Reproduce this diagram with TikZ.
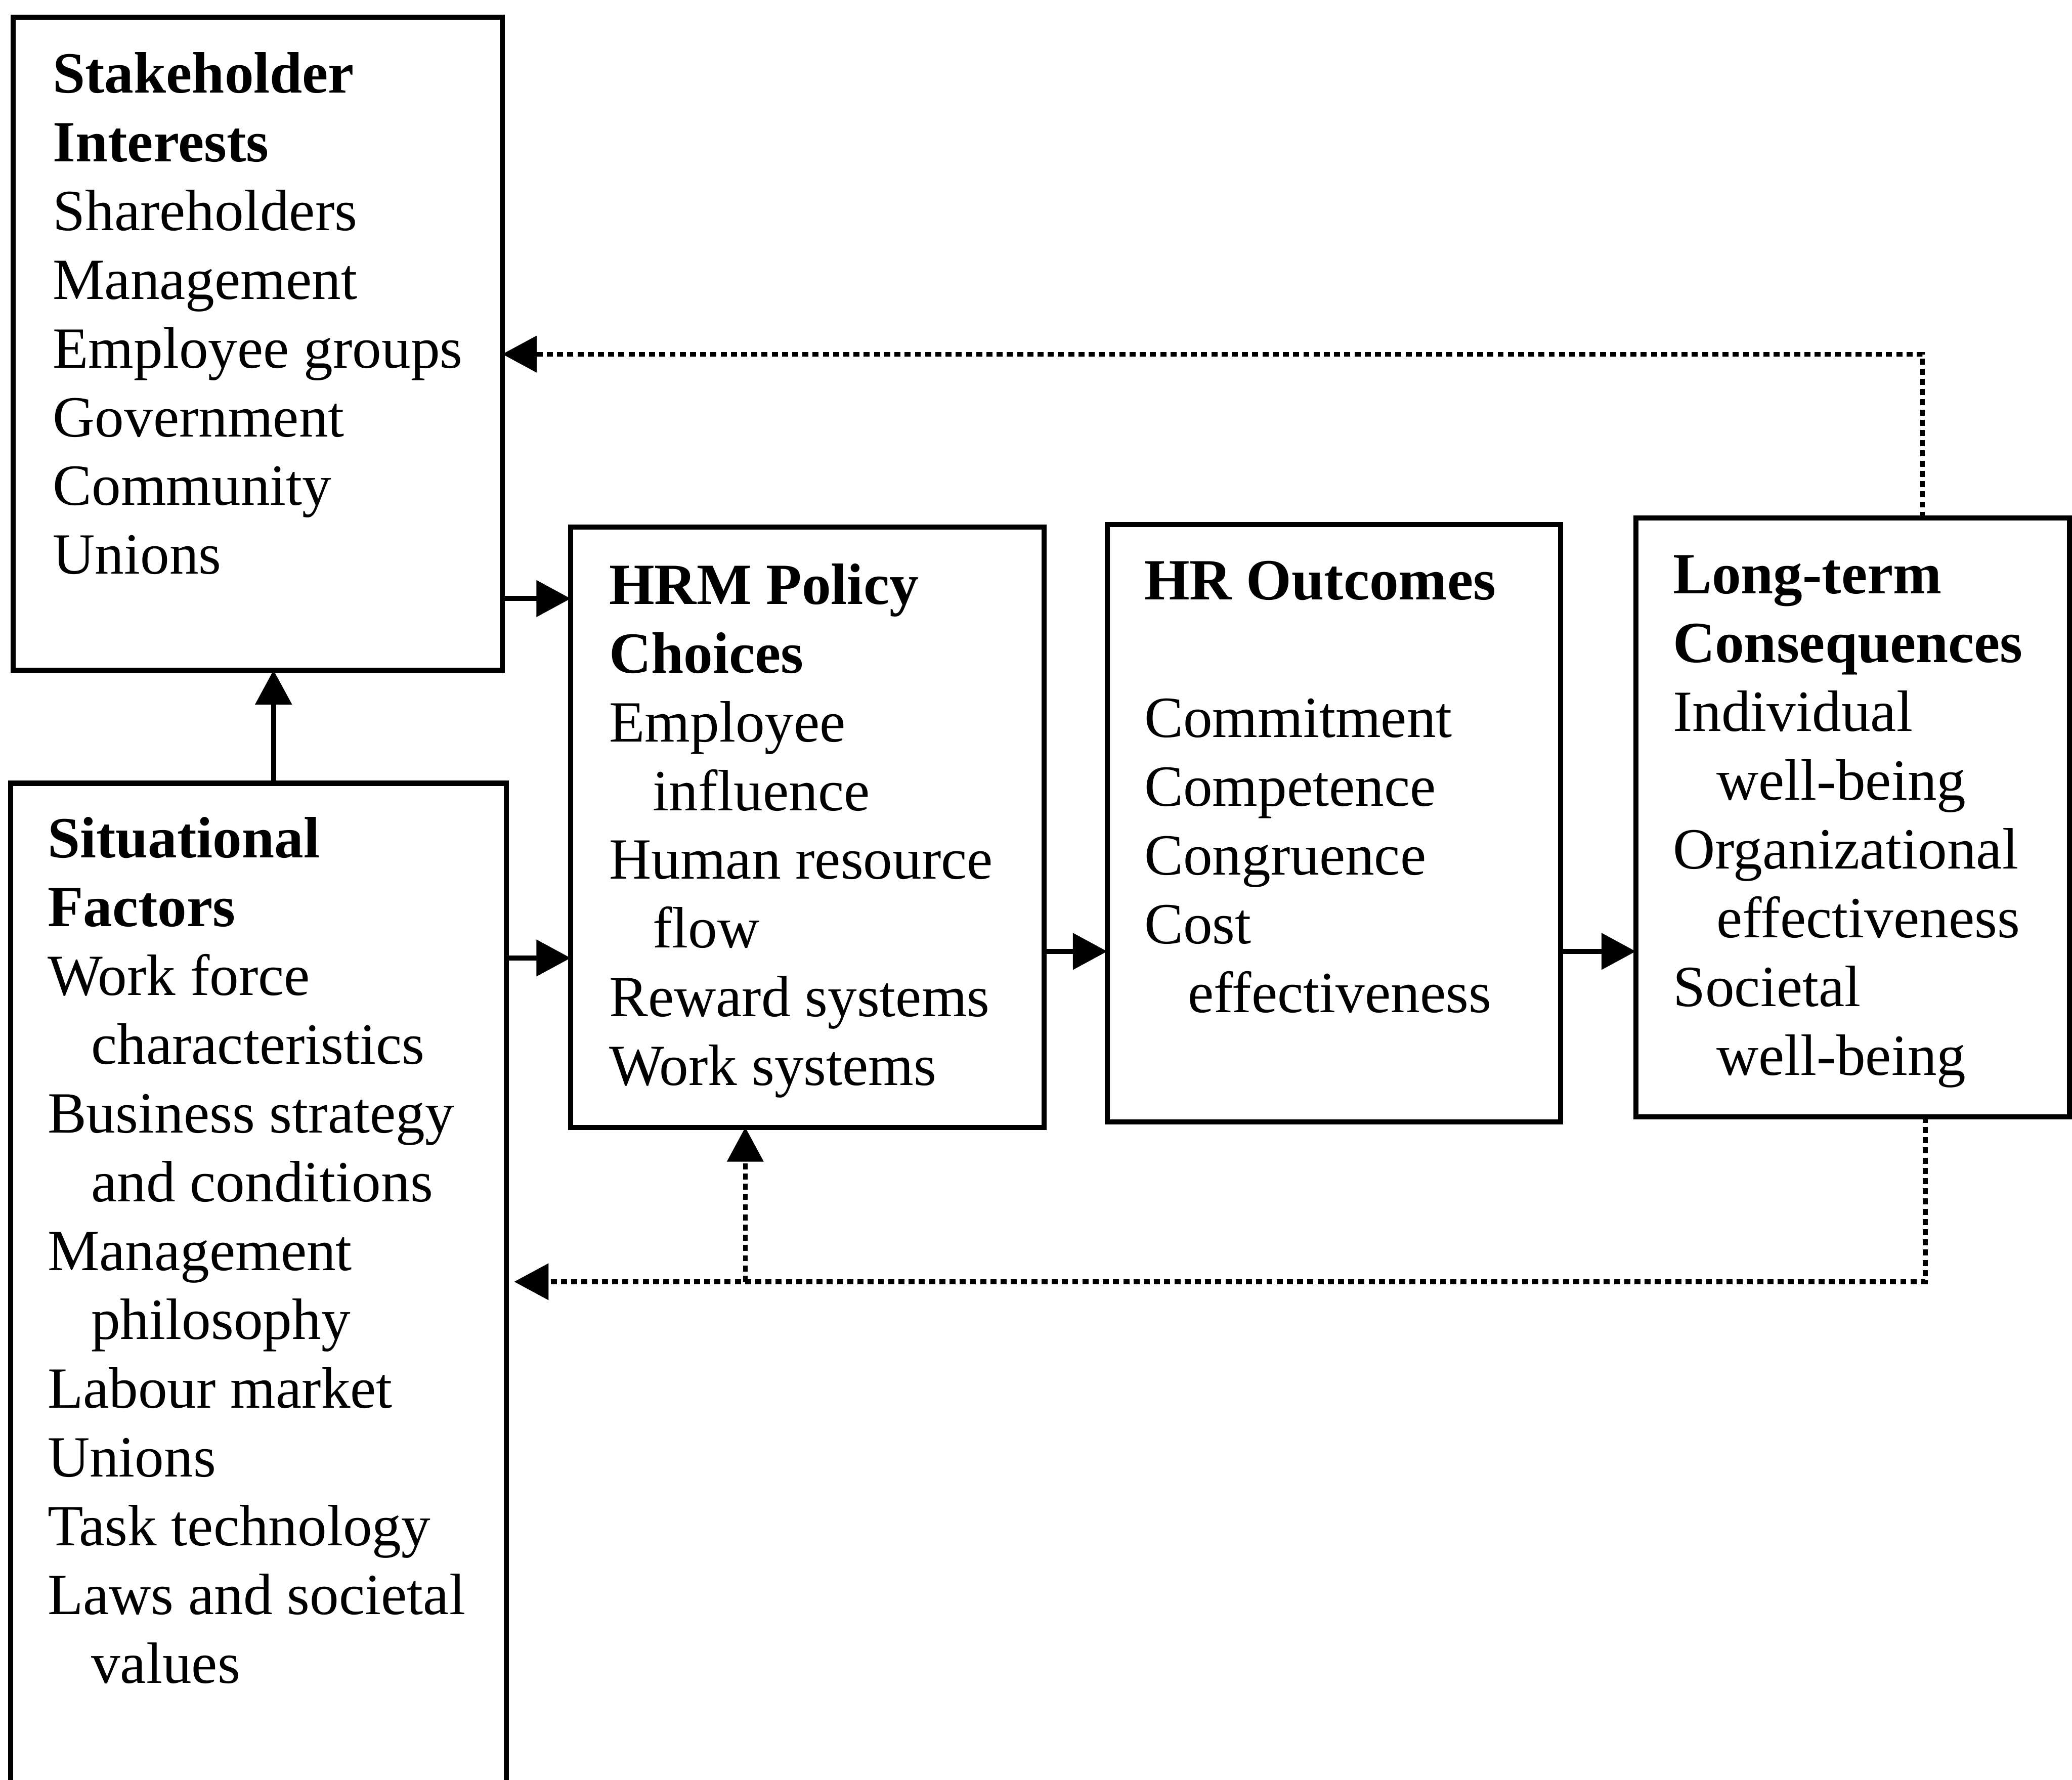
\documentclass[tikz,border=0pt]{standalone}
\usepackage{fontspec}
\setmainfont{Liberation Serif}
\usetikzlibrary{arrows.meta}
\newcommand{\ind}{\hspace*{0.33cm}}
\tikzset{
  box/.style={draw, line width=1.1pt, rectangle, inner sep=0pt, outer sep=0pt},
  txt/.style={anchor=north west, inner sep=0pt, outer sep=0pt, align=left,
              font=\fontsize{12.55}{14.8}\selectfont},
  arr/.style={line width=1.1pt, -{Triangle[length=0.26cm, width=0.27cm]}},
  fb/.style={line width=1.0pt, dash pattern=on 1.3pt off 0.9pt},
  fbarr/.style={fb, -{Triangle[length=0.26cm, width=0.27cm]}}
}
\begin{document}
\begin{tikzpicture}[x=0.01cm, y=-0.01cm]
\useasboundingbox (0,0) rectangle (1568,1347);
% boxes
\node[box, minimum width=3.70cm, minimum height=4.94cm] (stake) at (195,260) {};
\node[box, minimum width=3.75cm, minimum height=7.59cm] (sit) at (195.5,972.5) {};
\node[box, minimum width=3.58cm, minimum height=4.54cm] (hrm) at (611,626) {};
\node[box, minimum width=3.43cm, minimum height=4.52cm] (hro) at (1009.5,623) {};
\node[box, minimum width=3.28cm, minimum height=4.53cm] (ltc) at (1402,618.5) {};
% texts
\node[txt] (staketxt) at (40,39.5) {\textbf{Stakeholder}\\\textbf{Interests}\\Shareholders\\Management\\Employee groups\\Government\\Community\\Unions};
\node[txt] (sittxt) at (36,618.5) {\textbf{Situational}\\\textbf{Factors}\\Work force\\\ind characteristics\\Business strategy\\\ind and conditions\\Management\\\ind philosophy\\Labour market\\Unions\\Task technology\\Laws and societal\\\ind values};
\node[txt] (hrmtxt) at (461,426.5) {\textbf{HRM Policy}\\\textbf{Choices}\\Employee\\\ind influence\\Human resource\\\ind flow\\Reward systems\\Work systems};
\node[txt] (hrotxt) at (866,424.5) {\textbf{HR Outcomes}\\\mbox{}\\Commitment\\Competence\\Congruence\\Cost\\\ind effectiveness};
\node[txt] (ltctxt) at (1266,420.5) {\textbf{Long-term}\\\textbf{Consequences}\\Individual\\\ind well-being\\Organizational\\\ind effectiveness\\Societal\\\ind well-being};
% helper coordinates
\coordinate (ya) at (0,453);
\coordinate (yb) at (0,725);
\coordinate (yc) at (0,720);
\coordinate (xa) at (207,0);
\coordinate (top) at (1455,268);
\coordinate (bot) at (1457,970);
\coordinate (br) at (564,970);
% solid arrows
\draw[arr] (stake.east |- ya) -- (hrm.west |- ya);
\draw[arr] (sit.east |- yb) -- (hrm.west |- yb);
\draw[arr] (sit.north -| xa) -- (stake.south -| xa);
\draw[arr] (hrm.east |- yc) -- (hro.west |- yc);
\draw[arr] (hro.east |- yc) -- (ltc.west |- yc);
% feedback loops
\draw[fbarr] (ltc.north -| top) -- (top) -- (stake.east |- top);
\draw[fbarr, shorten >=0.06cm] (ltc.south -| bot) -- (bot) -- (sit.east |- bot);
\draw[fbarr] (br) -- (hrm.south -| br);
\end{tikzpicture}
\end{document}
